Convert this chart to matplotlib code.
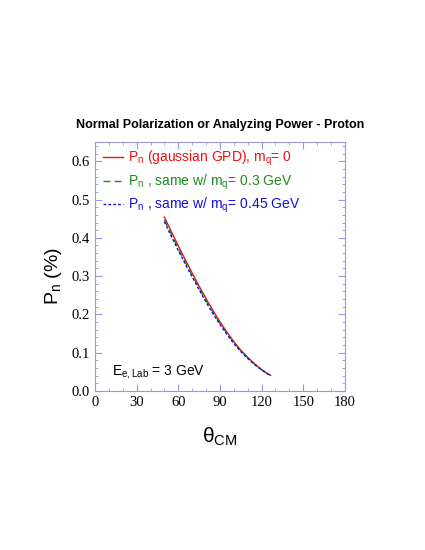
import numpy as np
import matplotlib
matplotlib.use("Agg")
import matplotlib.pyplot as plt
from matplotlib.ticker import MultipleLocator, FormatStrFormatter

plt.rcParams['font.family'] = ['Liberation Sans', 'DejaVu Sans']
plt.rcParams['mathtext.default'] = 'regular'

# =============================
# DATA
# =============================
theta = [50, 55, 60, 65, 70, 75, 80, 85, 90, 95, 100, 105, 110, 115, 120, 125, 126.5]
pn_gauss = [0.454, 0.416, 0.379, 0.343, 0.308, 0.274, 0.241, 0.210, 0.181, 0.154,
            0.129, 0.107, 0.088, 0.071, 0.056, 0.044, 0.041]
pn_mq03 = [0.447, 0.409, 0.372, 0.337, 0.302, 0.269, 0.236, 0.206, 0.177, 0.151,
           0.127, 0.105, 0.087, 0.070, 0.056, 0.044, 0.041]
pn_mq045 = [0.442, 0.404, 0.367, 0.332, 0.298, 0.265, 0.232, 0.202, 0.174, 0.148,
            0.124, 0.103, 0.085, 0.069, 0.055, 0.043, 0.041]

labels = ["P$_n$ (gaussian GPD), m$_q$= 0",
          "P$_n$ , same w/ m$_q$= 0.3 GeV",
          "P$_n$ , same w/ m$_q$= 0.45 GeV"]
colors = ["#ee1111", "#228822", "#1111dd"]

frame = "#9999dd"

# =============================
# PLOT
# =============================
fig = plt.figure(figsize=(4.25, 5.5), dpi=100)
ax = fig.add_axes([0.2235, 0.289, 0.588, 0.4527])

ax.plot(theta, pn_gauss, color=colors[0], lw=1.0, label=labels[0])
ax.plot(theta, pn_mq03, color=colors[1], lw=1.0, ls=(0, (5, 3)), label=labels[1])
ax.plot(theta, pn_mq045, color=colors[2], lw=1.0, ls=(0, (2, 1.5)), label=labels[2])

ax.set_xlim(0, 180)
ax.set_ylim(0, 0.65)
ax.xaxis.set_major_locator(MultipleLocator(30))
ax.xaxis.set_minor_locator(MultipleLocator(10))
ax.yaxis.set_major_locator(MultipleLocator(0.1))
ax.yaxis.set_minor_locator(MultipleLocator(0.02))
ax.yaxis.set_major_formatter(FormatStrFormatter('%.1f'))

for s in ax.spines.values():
    s.set_color(frame)
ax.tick_params(which='both', direction='in', top=True, right=True, color=frame)
ax.tick_params(which='major', length=5, labelsize=10.5)
ax.tick_params(which='minor', length=2.5)
for lab in ax.get_xticklabels() + ax.get_yticklabels():
    lab.set_family('Liberation Serif')

ax.set_xlabel(r"$\theta_{CM}$", fontsize=15, labelpad=12)
ax.set_ylabel("P$_n$ (%)", fontsize=14)
ax.yaxis.set_label_coords(-0.125, 0.46)
ax.set_title("Normal Polarization or Analyzing Power - Proton",
             fontsize=9, fontweight='bold', pad=10)

leg = ax.legend(loc='upper left', frameon=False, fontsize=10,
                handlelength=1.45, handletextpad=0.35, labelspacing=0.3,
                borderaxespad=0.2, bbox_to_anchor=(0.0, 1.005))
for txt, c in zip(leg.get_texts(), colors):
    txt.set_color(c)

ax.text(12, 0.042, "E$_{e,Lab}$ = 3 GeV", fontsize=10)

fig.savefig("out.png", dpi=100)
